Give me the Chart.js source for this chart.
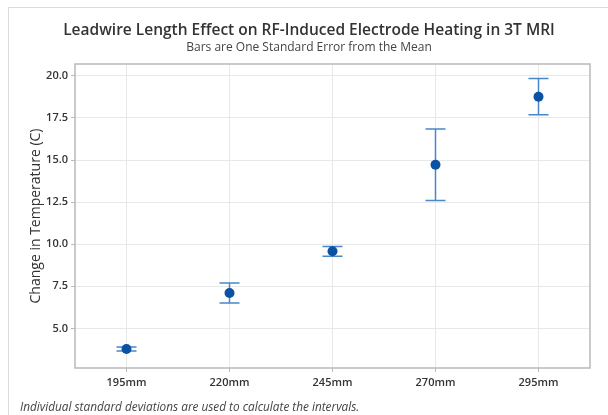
<!DOCTYPE html>
<html>
<head>
<meta charset="utf-8">
<script src="https://cdn.jsdelivr.net/npm/chart.js@4"></script>
<style>
  html, body { margin: 0; padding: 0; background: #fff; }
  #wrap { position: relative; width: 608px; height: 415px; }
  #frame { position: absolute; left: 8px; top: 7px; right: 0; bottom: 0;
           border-top: 1px solid #dcdcdc; border-left: 1px solid #dcdcdc; }
  #note { position: absolute; left: 20px; top: 398px; font: italic 11.8px "Open Sans", sans-serif; color: #444; }
  canvas { position: absolute; left: 0; top: 0; }
</style>
</head>
<body>
<div id="wrap">
  <div id="frame"></div>
  <canvas id="chart" width="608" height="415"></canvas>
  <div id="note">Individual standard deviations are used to calculate the intervals.</div>
</div>
<script>
const lengths = ['195mm', '220mm', '245mm', '270mm', '295mm'];
const meanRise = [3.78, 7.10, 9.58, 14.72, 18.76];
const stdErr = [0.12, 0.59, 0.29, 2.12, 1.08];
const yTicks = [5, 7.5, 10, 12.5, 15, 17.5, 20];

const FONT = '"Open Sans", "Noto Sans", sans-serif';

const errorBars = {
    id: 'errorBars',
    beforeDatasetsDraw(chart) {
        const { ctx, scales: { x, y } } = chart;
        ctx.save();
        ctx.strokeStyle = '#4a86c8';
        ctx.lineWidth = 1.5;
        meanRise.forEach((m, i) => {
            const px = x.getPixelForValue(i);
            const top = y.getPixelForValue(m + stdErr[i]);
            const bot = y.getPixelForValue(m - stdErr[i]);
            ctx.beginPath();
            ctx.moveTo(px, top); ctx.lineTo(px, bot);
            ctx.moveTo(px - 10, top); ctx.lineTo(px + 10, top);
            ctx.moveTo(px - 10, bot); ctx.lineTo(px + 10, bot);
            ctx.stroke();
        });
        ctx.restore();
    },
    afterDraw(chart) {
        const { ctx, chartArea: a } = chart;
        ctx.save();
        ctx.strokeStyle = '#b9b9b9';
        ctx.lineWidth = 1.5;
        ctx.strokeRect(a.left, a.top, a.right - a.left, a.bottom - a.top);
        ctx.restore();
    }
};

new Chart(document.getElementById('chart'), {
    type: 'line',
    data: {
        labels: lengths,
        datasets: [{
            data: meanRise,
            showLine: false,
            pointRadius: 5,
            pointHoverRadius: 5,
            pointBackgroundColor: '#0a52a3',
            pointBorderColor: '#0a52a3',
            pointBorderWidth: 0
        }]
    },
    options: {
        responsive: false,
        animation: false,
        layout: { padding: { left: 28, right: 18, top: 15, bottom: 23 } },
        plugins: {
            legend: { display: false },
            tooltip: { enabled: false },
            title: {
                display: true,
                text: 'Leadwire Length Effect on RF-Induced Electrode Heating in 3T MRI',
                color: '#333',
                font: { family: FONT, size: 15.5, weight: '600' },
                padding: { top: 6, bottom: 0 }
            },
            subtitle: {
                display: true,
                text: 'Bars are One Standard Error from the Mean',
                color: '#444',
                font: { family: FONT, size: 12 },
                padding: { top: 1, bottom: 9 }
            }
        },
        scales: {
            x: {
                type: 'category',
                offset: true,
                grid: { offset: false, color: '#e8e8e8', tickColor: '#b9b9b9', tickLength: 4 },
                border: { display: false },
                ticks: { color: '#333', font: { family: FONT, size: 11, weight: '600' }, padding: 4 },
                afterFit(scale) { scale.height = 24; }
            },
            y: {
                min: 2.65,
                max: 20.7,
                grid: { color: '#e8e8e8', tickColor: '#b9b9b9', tickLength: 4 },
                border: { display: false },
                afterBuildTicks(scale) { scale.ticks = yTicks.map(v => ({ value: v })); },
                ticks: {
                    color: '#333',
                    font: { family: FONT, size: 11, weight: '600' },
                    padding: 3,
                    callback: v => v.toFixed(1)
                },
                title: {
                    display: true,
                    text: 'Change in Temperature (C)',
                    color: '#333',
                    font: { family: FONT, size: 14 },
                    padding: { top: 0, bottom: 0 }
                },
                afterFit(scale) { scale.width = 47; }
            }
        }
    },
    plugins: [errorBars]
});
</script>
</body>
</html>
